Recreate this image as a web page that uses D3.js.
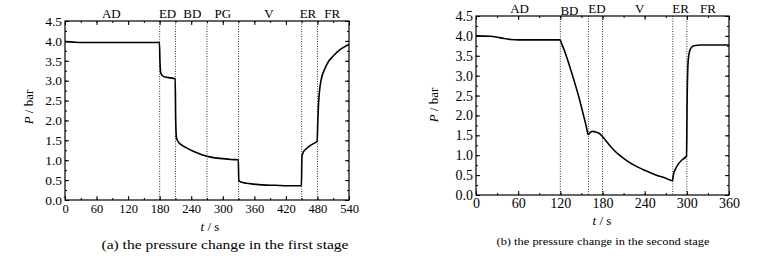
<!DOCTYPE html>
<html>
<head>
<meta charset="utf-8">
<script src="https://cdnjs.cloudflare.com/ajax/libs/d3/7.8.5/d3.min.js"></script>
<style>
  body { margin: 0; background: #fff; }
  #fig, #fig text { font-family: "Liberation Serif", "Times New Roman", Times, serif; }
  .frame { fill: none; stroke: #000; stroke-width: 1.2; }
  .axis path { display: none; }
  .axis line { stroke: #000; stroke-width: 1; }
  .phase-line { stroke: #333; stroke-width: 1; stroke-dasharray: 1,1.5; }
  .line { fill: none; stroke: #000; stroke-width: 1.6; }
</style>
</head>
<body>
<svg id="fig" width="759" height="256"></svg>
<script>
// (a) first stage
var timeA = [0, 15, 30, 60, 179.5, 180.5, 182, 185, 190, 200, 209.5, 210.5, 212, 216, 222, 231, 245, 260, 270, 285, 300, 315, 329.5,
  330.5, 335, 345, 358, 375, 400, 425, 449.5, 450.5, 453, 460, 470, 479.5, 480.5, 482, 484, 487, 494, 502, 510, 523, 535, 540];
var pressA = [3.98, 3.97, 3.96, 3.96, 3.96, 3.5, 3.2, 3.13, 3.09, 3.07, 3.05, 2.0, 1.56, 1.45, 1.38, 1.31, 1.22, 1.14, 1.10, 1.06, 1.04, 1.02, 1.01,
  0.49, 0.45, 0.42, 0.40, 0.38, 0.37, 0.36, 0.36, 1.10, 1.20, 1.30, 1.40, 1.48, 1.9, 2.4, 2.75, 3.02, 3.3, 3.5, 3.62, 3.78, 3.88, 3.91];
var phaseLinesA = [180, 210, 270, 330, 450, 480];
var phaseNamesA = ["AD", "ED", "BD", "PG", "V", "ER", "FR"];
var phaseAtA = [88, 195, 242, 300, 388, 462, 508];
var xTicksA = [0, 60, 120, 180, 240, 300, 360, 420, 480, 540];

// (b) second stage
var timeB = [0, 20, 35, 50, 60, 90, 119.5, 122, 126, 133, 140, 147, 153, 157, 159.5, 163, 166, 171, 176, 179.5,
  185, 195, 205, 215, 225, 240, 255, 270, 279.5, 281, 284, 288, 293, 299.5, 300.5, 302, 304, 307, 312, 320, 340, 360];
var pressB = [4.0, 3.99, 3.95, 3.91, 3.9, 3.9, 3.9, 3.8, 3.62, 3.25, 2.85, 2.42, 2.0, 1.72, 1.52, 1.58, 1.6, 1.58, 1.54, 1.48,
  1.36, 1.15, 0.99, 0.86, 0.75, 0.62, 0.51, 0.42, 0.36, 0.52, 0.66, 0.78, 0.88, 0.98, 2.5, 3.4, 3.62, 3.72, 3.76, 3.77, 3.77, 3.77];
var phaseLinesB = [120, 160, 180, 280, 300];
var phaseNamesB = ["AD", "BD", "ED", "V", "ER", "FR"];
var phaseAtB = [62, 133, 172, 233, 291, 330];
var xTicksB = [0, 60, 120, 180, 240, 300, 360];

var yTicks = [0, 0.5, 1, 1.5, 2, 2.5, 3, 3.5, 4, 4.5];

function pressureChart() {
  var _chart = {};
  var _left = 0, _top = 0, _width = 300, _height = 180,
    _xMax = 540, _times = [], _values = [],
    _phaseLines = [], _phaseNames = [], _phaseAt = [],
    _xTicks = [], _caption = "",
    _fonts = {tick: 12, ytick: 13, label: 13, caption: 12},
    _pos = {},
    _x, _y;

  _chart.render = function (svg) {
    _x = d3.scaleLinear().domain([0, _xMax]).range([0, _width]);
    _y = d3.scaleLinear().domain([0, 4.5]).range([_height, 0]);

    var g = svg.append("g")
      .attr("transform", "translate(" + _left + "," + _top + ")");

    renderAxes(g);

    g.selectAll("line.phase-line")
      .data(_phaseLines)
      .enter().append("line")
      .attr("class", "phase-line")
      .attr("x1", function (d) { return _x(d); })
      .attr("x2", function (d) { return _x(d); })
      .attr("y1", 0)
      .attr("y2", _height);

    var line = d3.line()
      .curve(d3.curveMonotoneX)
      .x(function (d) { return _x(d[0]); })
      .y(function (d) { return _y(d[1]); });

    g.append("path")
      .datum(d3.zip(_times, _values))
      .attr("class", "line")
      .attr("d", line);

    g.append("rect")
      .attr("class", "frame")
      .attr("width", _width)
      .attr("height", _height);

    g.selectAll("text.phase")
      .data(_phaseNames)
      .enter().append("text")
      .attr("class", "phase")
      .attr("x", function (d, i) { return _x(_phaseAt[i]); })
      .attr("y", function (d) { return _pos.phaseY[d] !== undefined ? _pos.phaseY[d] : _pos.phaseY.all; })
      .attr("text-anchor", "middle")
      .style("font-size", _fonts.label + "px")
      .text(function (d) { return d; });

    var xl = g.append("text")
      .attr("x", _pos.xLabel[0])
      .attr("y", _pos.xLabel[1])
      .attr("text-anchor", "middle")
      .style("font-size", _fonts.label + "px");
    xl.append("tspan").style("font-style", "italic").text("t");
    xl.append("tspan").text(" / s");

    var yl = g.append("text")
      .attr("transform", "translate(" + _pos.yLabel[0] + "," + _pos.yLabel[1] + ") rotate(-90)")
      .attr("text-anchor", "middle")
      .style("font-size", _fonts.label + "px");
    yl.append("tspan").style("font-style", "italic").text("P");
    yl.append("tspan").text(" / bar");

    // the printed captions are a little stretched sideways
    g.append("text")
      .attr("x", _pos.caption[0] - _pos.captionWidth / 2)
      .attr("y", _pos.caption[1])
      .attr("textLength", _pos.captionWidth)
      .attr("lengthAdjust", "spacingAndGlyphs")
      .style("font-size", _fonts.caption + "px")
      .text(_caption);
  };

  function renderAxes(g) {
    var minorX = d3.range(0, _xMax + 1, 30);
    var minorY = d3.range(0, 4.51, 0.25);

    // bottom, with labels
    var bottom = g.append("g").attr("class", "axis")
      .attr("transform", "translate(0," + _height + ")");
    bottom.call(d3.axisBottom(_x).tickValues(minorX).tickSize(-2).tickFormat(""));
    bottom.append("g").call(d3.axisBottom(_x).tickValues(_xTicks).tickSize(-4).tickPadding(_pos.xPad).tickFormat(d3.format("d")))
      .selectAll("text").style("font-size", _fonts.tick + "px");

    var top = g.append("g").attr("class", "axis");
    top.call(d3.axisTop(_x).tickValues(minorX).tickSize(-2).tickFormat(""));
    top.append("g").call(d3.axisTop(_x).tickValues(_xTicks).tickSize(-4).tickFormat(""));

    var left = g.append("g").attr("class", "axis");
    left.call(d3.axisLeft(_y).tickValues(minorY).tickSize(-2).tickFormat(""));
    left.append("g").call(d3.axisLeft(_y).tickValues(yTicks).tickSize(-4).tickPadding(_pos.yPad).tickFormat(d3.format(".1f")))
      .selectAll("text").style("font-size", _fonts.ytick + "px");

    var right = g.append("g").attr("class", "axis")
      .attr("transform", "translate(" + _width + ",0)");
    right.call(d3.axisRight(_y).tickValues(minorY).tickSize(-2).tickFormat(""));
    right.append("g").call(d3.axisRight(_y).tickValues(yTicks).tickSize(-4).tickFormat(""));

    g.selectAll(".axis, .axis g").attr("font-family", null);
  }

  _chart.box = function (l, t, w, h) {
    _left = l; _top = t; _width = w; _height = h;
    return _chart;
  };

  _chart.xMax = function (m) {
    if (!arguments.length) return _xMax;
    _xMax = m;
    return _chart;
  };

  _chart.data = function (t, v) {
    _times = t; _values = v;
    return _chart;
  };

  _chart.phases = function (lines, names, at) {
    _phaseLines = lines; _phaseNames = names; _phaseAt = at;
    return _chart;
  };

  _chart.xTicks = function (t) {
    if (!arguments.length) return _xTicks;
    _xTicks = t;
    return _chart;
  };

  _chart.caption = function (c) {
    if (!arguments.length) return _caption;
    _caption = c;
    return _chart;
  };

  _chart.fonts = function (f) {
    if (!arguments.length) return _fonts;
    _fonts = f;
    return _chart;
  };

  _chart.positions = function (p) {
    if (!arguments.length) return _pos;
    _pos = p;
    return _chart;
  };

  return _chart;
}

var svg = d3.select("#fig");

var chartA = pressureChart()
  .box(65, 21, 284, 179)
  .xMax(540)
  .data(timeA, pressA)
  .phases(phaseLinesA, phaseNamesA, phaseAtA)
  .xTicks(xTicksA)
  .caption("(a) the pressure change in the first stage")
  .fonts({tick: 12.5, ytick: 13.5, label: 13, caption: 12.5})
  .positions({phaseY: {all: -3}, xPad: 4, yPad: 3, xLabel: [145, 210], yLabel: [-32, 86],
    caption: [160, 228], captionWidth: 247});
chartA.render(svg);

var chartB = pressureChart()
  .box(476, 16, 253, 179)
  .xMax(360)
  .data(timeB, pressB)
  .phases(phaseLinesB, phaseNamesB, phaseAtB)
  .xTicks(xTicksB)
  .caption("(b) the pressure change in the second stage")
  .fonts({tick: 14, ytick: 14, label: 13, caption: 11})
  .positions({phaseY: {all: -3, BD: -1}, xPad: 3, yPad: 3, xLabel: [126, 209], yLabel: [-38, 89],
    caption: [127, 229], captionWidth: 213});
chartB.render(svg);
</script>
</body>
</html>
